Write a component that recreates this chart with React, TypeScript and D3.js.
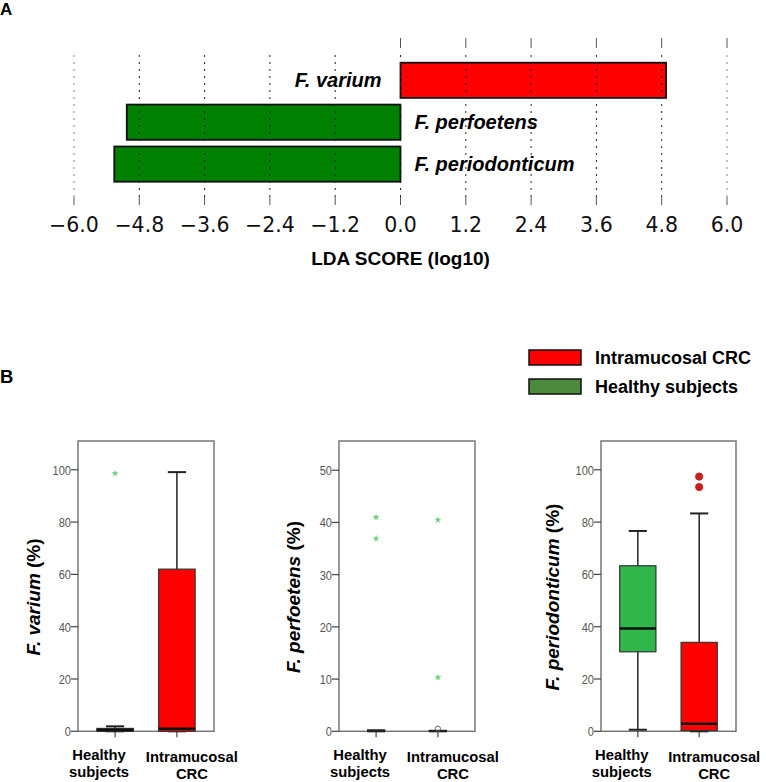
import React, { useEffect, useRef } from "react";
import * as d3 from "d3";

// Panel A: LDA effect sizes
const ldaTaxa = ["F. varium", "F. perfoetens", "F. periodonticum"];
const ldaScores = [4.88, -5.03, -5.26];
const ldaTicks = [-6.0, -4.8, -3.6, -2.4, -1.2, 0.0, 1.2, 2.4, 3.6, 4.8, 6.0];

// Panel B: box plots (per group: [min, q1, median, q3, max])
const groups = ["Healthy subjects", "Intramucosal CRC"];
const groupLines = [["Healthy", "subjects"], ["Intramucosal", "CRC"]];

const variumBoxes = [[0, 0, 0.5, 1.1, 1.9], [0, 0, 1.0, 62, 99.1]];
const variumExtremes = [[98.6], []];
const variumOutliers = [[], []];

const perfoetensBoxes = [[0, 0, 0, 0, 0.2], [0, 0, 0, 0, 0.1]];
const perfoetensExtremes = [[41.0, 36.9], [40.5, 10.3]];
const perfoetensOutliers = [[], [0.5]];

const periodonticumBoxes = [[0.6, 30.4, 39.3, 63.3, 76.6], [0, 0.3, 2.9, 34.0, 83.3]];
const periodonticumExtremes = [[], []];
const periodonticumOutliers = [[], [97.4, 93.4]];

const panelTitles = ["F. varium", "F. perfoetens", "F. periodonticum"];
const panelMax = [111, 55.6, 111];
const panelTicks = [
  [0, 20, 40, 60, 80, 100],
  [0, 10, 20, 30, 40, 50],
  [0, 20, 40, 60, 80, 100],
];

const legendLabels = ["Intramucosal CRC", "Healthy subjects"];

// layout
const W = 766;
const H = 782;
const frames = [
  { x0: 78, x1: 214, titleDx: -38, outFill: "none", outStroke: "#666" },
  { x0: 339, x1: 475, titleDx: -39, outFill: "none", outStroke: "#666" },
  { x0: 601, x1: 736, titleDx: -42, outFill: "#c8201e", outStroke: "#c8201e" },
];
const frameTop = 441;
const frameBottom = 731.3;
const boxColors = ["#2fb74a", "#ff0000"];
const labelShift = [-16, 15];
const helv = "'Liberation Sans', Arial, sans-serif";

export default function App() {
  const ref = useRef<SVGSVGElement>(null);

  useEffect(() => {
    const svg = d3.select(ref.current);
    svg.selectAll("*").remove();

    // ---------- Panel A ----------
    svg.append("text").attr("x", 0).attr("y", 15).text("A")
      .style("font", `bold 17px ${helv}`);

    const x = d3.scaleLinear().domain([-6, 6]).range([74, 727]);
    const y = d3.scaleBand().domain(ldaTaxa).range([62.7, 181.7]).paddingInner(0.16);

    const a = svg.append("g");
    a.selectAll("rect.lda")
      .data(ldaTaxa)
      .join("rect")
      .attr("class", "lda")
      .attr("x", (d, i) => x(Math.min(0, ldaScores[i])))
      .attr("width", (d, i) => Math.abs(x(ldaScores[i]) - x(0)))
      .attr("y", (d) => y(d)!)
      .attr("height", y.bandwidth())
      .attr("fill", (d, i) => (ldaScores[i] > 0 ? "#ff0000" : "#008000"))
      .attr("stroke", "#111")
      .attr("stroke-width", 1.8);

    // grid drawn over the bars
    a.selectAll("line.grid")
      .data(ldaTicks)
      .join("line")
      .attr("class", "grid")
      .attr("x1", (d) => x(d)).attr("x2", (d) => x(d))
      .attr("y1", 55).attr("y2", 197)
      .attr("stroke", (d) => (Math.abs(d) === 6 ? "#888" : "#222"))
      .attr("stroke-width", 1)
      .attr("stroke-dasharray", "2,5");
    a.selectAll("line.top")
      .data(ldaTicks.filter((d) => d >= 0))
      .join("line")
      .attr("class", "top")
      .attr("x1", (d) => x(d)).attr("x2", (d) => x(d))
      .attr("y1", 38).attr("y2", 48)
      .attr("stroke", "#555");
    a.selectAll("line.tick")
      .data(ldaTicks)
      .join("line")
      .attr("class", "tick")
      .attr("x1", (d) => x(d)).attr("x2", (d) => x(d))
      .attr("y1", 197).attr("y2", 205)
      .attr("stroke", "#555");
    a.selectAll("text.tick")
      .data(ldaTicks)
      .join("text")
      .attr("class", "tick")
      .attr("x", (d) => x(d))
      .attr("y", 232)
      .attr("text-anchor", "middle")
      .style("font", "20.5px 'DejaVu Sans', sans-serif")
      .attr("fill", "#111")
      .text((d) => d3.format(".1f")(d).replace("-", "\u2212"));

    a.selectAll("text.taxon")
      .data(ldaTaxa)
      .join("text")
      .attr("class", "taxon")
      .attr("x", (d, i) => (ldaScores[i] > 0 ? x(0) - 19 : x(0) + 14))
      .attr("y", (d) => y(d)! + y.bandwidth() / 2)
      .attr("dy", "0.36em")
      .attr("text-anchor", (d, i) => (ldaScores[i] > 0 ? "end" : "start"))
      .style("font", `italic bold 20px ${helv}`)
      .text((d) => d);

    a.append("text")
      .attr("x", x(0)).attr("y", 265)
      .attr("text-anchor", "middle")
      .style("font", `bold 19px ${helv}`)
      .text("LDA SCORE (log10)");

    // ---------- Panel B ----------
    svg.append("text").attr("x", 0).attr("y", 383).text("B")
      .style("font", `bold 18.5px ${helv}`);

    const legend = svg.append("g");
    legendLabels.forEach((lab, i) => {
      legend.append("rect")
        .attr("x", 529).attr("y", 350 + i * 29)
        .attr("width", 52).attr("height", 15)
        .attr("fill", i === 0 ? "#ff0000" : "#4e8a3c")
        .attr("stroke", "#111").attr("stroke-width", 1.5);
      legend.append("text")
        .attr("x", 595).attr("y", 364 + i * 29)
        .style("font", `bold 18px ${helv}`)
        .text(lab);
    });

    const boxes = [variumBoxes, perfoetensBoxes, periodonticumBoxes];
    const extremes = [variumExtremes, perfoetensExtremes, periodonticumExtremes];
    const outliers = [variumOutliers, perfoetensOutliers, periodonticumOutliers];

    frames.forEach((f, p) => {
      const g = svg.append("g");
      const yy = d3.scaleLinear().domain([0, panelMax[p]]).range([frameBottom, frameTop]);
      const xx = d3.scalePoint().domain(groups).range([f.x0, f.x1]).padding(0.6);
      const bw = xx.step() * 0.59;

      g.append("rect")
        .attr("x", f.x0).attr("y", frameTop)
        .attr("width", f.x1 - f.x0).attr("height", frameBottom - frameTop)
        .attr("fill", "none").attr("stroke", "#777").attr("stroke-width", 1.5);

      panelTicks[p].forEach((t) => {
        g.append("line")
          .attr("x1", f.x0 - 7).attr("x2", f.x0)
          .attr("y1", yy(t)).attr("y2", yy(t))
          .attr("stroke", "#444").attr("stroke-width", 1.2);
        g.append("text")
          .attr("transform", `translate(${f.x0 - 7},${yy(t) + 5}) scale(0.82,1)`)
          .attr("text-anchor", "end")
          .attr("fill", "#555")
          .style("font", `13.5px ${helv}`)
          .text(t);
      });

      groups.forEach((gr, k) => {
        const cx = xx(gr)!;
        const [mn, q1, md, q3, mx] = boxes[p][k];
        g.append("line")
          .attr("x1", cx).attr("x2", cx)
          .attr("y1", frameBottom).attr("y2", frameBottom + 6)
          .attr("stroke", "#444").attr("stroke-width", 1.2);

        // whiskers
        g.append("line").attr("x1", cx).attr("x2", cx)
          .attr("y1", yy(q3)).attr("y2", yy(mx))
          .attr("stroke", "#222").attr("stroke-width", 1.5);
        g.append("line").attr("x1", cx).attr("x2", cx)
          .attr("y1", yy(q1)).attr("y2", yy(mn))
          .attr("stroke", "#222").attr("stroke-width", 1.5);
        [mn, mx].forEach((v) =>
          g.append("line")
            .attr("x1", cx - bw / 4).attr("x2", cx + bw / 4)
            .attr("y1", yy(v)).attr("y2", yy(v))
            .attr("stroke", "#222").attr("stroke-width", 2)
        );

        if (q3 - q1 > 0.05) {
          g.append("rect")
            .attr("x", cx - bw / 2).attr("width", bw)
            .attr("y", yy(q3)).attr("height", yy(q1) - yy(q3))
            .attr("fill", boxColors[k])
            .attr("stroke", "#333").attr("stroke-width", 1.2);
          g.append("line")
            .attr("x1", cx - bw / 2).attr("x2", cx + bw / 2)
            .attr("y1", yy(md)).attr("y2", yy(md))
            .attr("stroke", "#111").attr("stroke-width", 2.5);
        }

        extremes[p][k].forEach((v) =>
          g.append("path")
            .attr("d", d3.symbol(d3.symbolStar, 16)()!)
            .attr("transform", `translate(${cx},${yy(v)})`)
            .attr("fill", "#6ccf7c")
        );
        outliers[p][k].forEach((v) =>
          g.append("circle")
            .attr("cx", cx).attr("cy", yy(v)).attr("r", f.outFill === "none" ? 2.6 : 3.6)
            .attr("fill", f.outFill).attr("stroke", f.outStroke).attr("stroke-width", 1)
        );

        groupLines[k].forEach((ln, li) =>
          g.append("text")
            .attr("x", cx + labelShift[k]).attr("y", 760 + k * 2 + li * 17)
            .attr("text-anchor", "middle")
            .style("font", `bold 14.8px ${helv}`)
            .text(ln)
        );
      });

      const title = g.append("text")
        .attr("transform", `translate(${f.x0 + f.titleDx},597) rotate(-90)`)
        .attr("text-anchor", "middle")
        .style("font", `bold 19px ${helv}`);
      title.append("tspan").style("font-style", "italic").text(panelTitles[p]);
      title.append("tspan").text(" (%)");
    });
  }, []);

  return (
    <svg
      ref={ref}
      width={W}
      height={H}
      style={{ position: "absolute", left: 0, top: 0, background: "#fff" }}
    />
  );
}
